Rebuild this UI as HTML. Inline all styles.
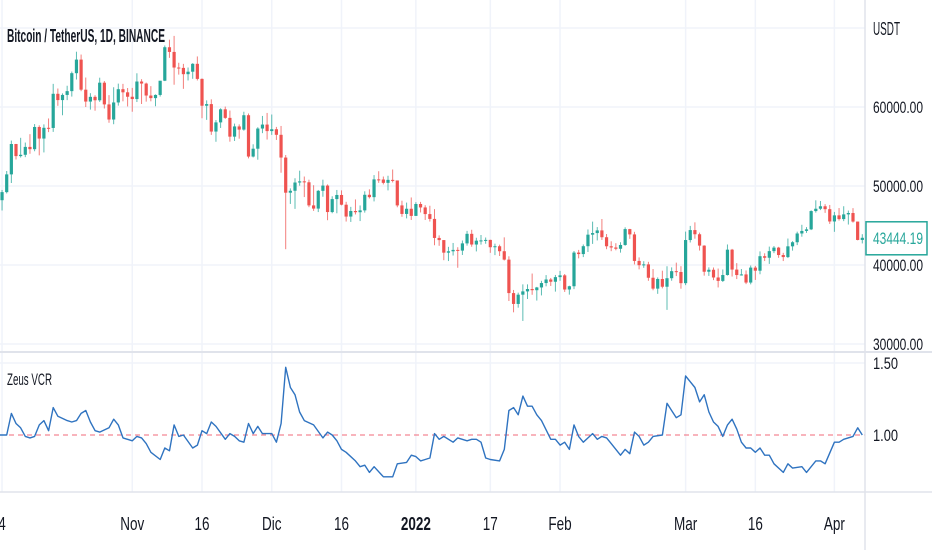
<!DOCTYPE html>
<html><head><meta charset="utf-8">
<style>
html,body{margin:0;padding:0;background:#fff;}
svg{display:block;font-family:"Liberation Sans",sans-serif;}
</style></head>
<body>
<svg id="chart" width="932" height="550" viewBox="0 0 932 550" xmlns="http://www.w3.org/2000/svg">
<rect width="932" height="550" fill="#fff"/>
<g id="grid"></g>
<g id="candles"></g>
<g id="ind"></g>
<g id="axes"></g>
<text x="7" y="42" font-size="18" font-weight="bold" fill="#131722" textLength="158" lengthAdjust="spacingAndGlyphs">Bitcoin / TetherUS, 1D, BINANCE</text>
<text x="7" y="385" font-size="17" fill="#131722" textLength="45" lengthAdjust="spacingAndGlyphs">Zeus VCR</text>
<text x="873" y="35" font-size="18" fill="#131722" textLength="27" lengthAdjust="spacingAndGlyphs">USDT</text>
</svg>
<script>
// Daily candles from Oct 3 2021 to Apr 7 2022
const firstOpen = 47650;
const closes = [48200,49225,51471,55315,53785,53951,54949,54659,57471,56005,57367,57347,61672,60875,61528,62009,64280,66001,62193,60688,61286,60852,63078,60328,58413,60575,62253,61859,61299,
61004,63226,62970,61452,61125,61527,63327,67566,66971,64995,64950,64155,64469,65466,63557,60161,60368,56891,58052,59707,58622,56247,57541,57138,58960,53726,54721,57274,57776,56950,
57184,56480,53601,49152,49397,50441,50588,50471,47545,47140,49390,50053,46702,48343,48864,47632,46131,46834,46682,46914,48889,48588,50838,50820,50399,50775,50701,47543,46464,47120,46216,
47722,47286,46446,45833,43425,43153,41561,41734,41911,41822,42736,43946,42592,43079,43113,43177,42250,42375,41744,40680,36445,35071,36244,36660,36958,36810,37160,37716,38166,37881,38466,
38691,36896,37311,41574,41383,42380,43840,44043,44379,43515,42373,42217,42053,42535,44544,43873,40515,39975,40079,38386,37008,38230,37250,38328,39219,39116,37700,43160,
44421,43892,42455,39148,39397,38420,37988,38730,41941,39422,38730,38807,37777,39671,39280,41114,40917,41757,42201,41262,41002,42364,42882,43991,44313,44511,46827,47122,47434,47067,45510,
46283,45811,46407,46580,45497,43170,43444];
const highs = [49300,49500,51900,55750,55330,56100,55500,56560,57840,57680,57800,58550,62930,62340,61720,62690,64490,67000,66640,63730,61750,61490,63710,63290,61500,62500,62960,62930,62400,
62420,64270,63520,63090,62640,61600,63300,67790,68520,69000,65600,65460,65000,65550,66400,63620,60840,60970,58350,59840,60050,59550,57900,57800,59400,59170,55280,57440,58870,59250,
59050,57480,57600,53920,49700,50980,51940,51200,50800,50100,49500,50800,50200,48700,49500,49440,48000,47360,48300,47540,49330,49580,51380,51870,51200,51300,52090,50700,48140,47900,48550,
47950,47990,47570,47500,47070,43750,43150,42300,42790,42250,43100,44320,44460,43450,43800,43480,43200,42700,42580,43500,41100,36840,36500,37550,37550,38920,37230,38000,38720,38360,38740,
39260,38860,37380,41770,41910,42600,44500,45490,44800,45820,43920,43000,42760,42880,44770,44580,44200,40960,40480,40400,39490,38430,39280,39840,39700,40300,39850,44230,
44950,45400,44100,42500,39700,39680,39550,39430,42600,42040,40240,39490,39310,39940,39890,41720,41480,42330,42400,42300,41540,43350,43020,44220,45090,44800,46920,48190,48100,47700,47600,
46720,47210,47440,46890,47200,45500,43900];
const lows = [47100,46900,49060,50380,53350,53600,53650,54080,54400,53880,54250,56820,56850,60150,58960,60870,61320,63480,62000,60000,59670,59530,60650,59810,58000,57820,60170,60720,60070,
59400,60630,60380,60680,60720,60100,61320,63280,66220,62820,64100,62300,63360,63570,63360,58570,58370,56470,55600,57350,58490,55610,55700,55990,57000,53500,53610,53330,56690,55880,
56470,55830,51680,42000,47730,47100,50040,48600,47320,46850,46700,48640,45670,46550,46550,47540,45500,45450,46400,45560,46630,48420,48050,50400,50200,49440,50450,47310,46100,45900,45700,
46210,46650,45700,45500,42500,42430,40610,40500,41200,39650,41270,42450,42310,41720,42580,42690,41540,41250,41140,40570,35440,34010,34600,32920,35700,36230,35500,36150,37300,37350,36630,
38000,36590,36250,36940,40840,41000,41650,42670,43110,43170,42000,41750,41860,41570,42430,43310,40070,39450,39640,38000,36800,36350,37040,34320,38010,38600,37000,37450,
42850,43330,41830,38650,38620,38090,37160,37850,38660,38540,38220,38660,37580,37550,38110,38830,40500,40140,41500,40910,40500,40880,41820,42520,43580,44070,44420,46630,46950,46600,45200,
44200,45620,45550,45120,45360,43120,42730];
// Zeus VCR readings: day index and value
const vcrDays = [0,2,3,4,5,6,7,8,9,10,11,12,13,15,16,17,18,19,20,21,22,24,25,26,27,29,30,31,32,33,35,36,37,38,39,40,42,43,44,45,46,47,49,50,51,52,53,54,55,56,57,59,60,61,62,63,64,65,66,68,70,71,72,73,74,75,77,78,79,80,81,83,85,86,88,89,90,91,92,93,94,95,96,98,99,101,102,103,104,105,106,108,109,110,111,112,113,114,115,116,117,119,120,121,122,123,124,125,126,127,128,129,130,131,132,134,135,136,137,138,139,140,141,143,144,145,146,147,148,150,151,152,153,154,155,156,157,158,159,160,161,162,163,164,165,166,167,169,170,171,173,174,176,177,178,180,181,182,184,185,186];
const vcrValues = [1.00,1.00,1.15,1.08,1.05,0.99,0.98,0.99,1.07,1.10,1.03,1.19,1.13,1.10,1.09,1.10,1.15,1.17,1.09,1.03,1.02,1.05,1.11,1.07,0.98,0.96,0.99,0.98,0.94,0.88,0.83,0.91,0.89,1.07,0.99,1.00,0.91,0.93,1.03,1.01,1.09,1.06,0.97,1.01,0.99,0.96,0.95,1.08,1.01,1.06,1.01,1.01,0.95,1.08,1.47,1.33,1.28,1.16,1.10,1.07,0.98,1.02,1.00,0.96,0.90,0.88,0.82,0.78,0.79,0.74,0.78,0.71,0.71,0.80,0.81,0.86,0.85,0.82,0.83,0.84,1.01,0.97,0.99,0.95,0.98,0.96,0.97,0.97,0.95,0.84,0.83,0.82,0.90,1.17,1.19,1.14,1.27,1.20,1.20,1.14,1.10,0.97,0.97,0.93,0.95,0.90,1.07,0.99,0.95,0.98,1.01,0.97,0.99,0.98,0.94,0.86,0.90,0.87,1.02,0.99,0.93,0.95,0.99,1.00,1.22,1.17,1.12,1.14,1.41,1.33,1.23,1.28,1.16,1.09,1.06,0.99,1.07,1.11,1.04,0.95,0.91,0.91,0.88,0.91,0.86,0.86,0.80,0.74,0.80,0.77,0.78,0.74,0.82,0.82,0.80,0.95,0.95,0.97,0.99,1.05,1.00];
const priceTicks = [70000,60000,50000,40000,30000];
const priceTickLabels = ["","60000.00","50000.00","40000.00","30000.00"];
const vcrTicks = [1.5,1.0];
const vcrTickLabels = ["1.50","1.00"];
const timeTickDays = [1,29,44,59,74,90,106,121,148,163,180];
const timeTickLabels = ["4","Nov","16","Dic","16","2022","17","Feb","Mar","16","Apr"];
const lastPrice = 43444.19;

const NS="http://www.w3.org/2000/svg";
const PLOT_R=865;
const xDay = d => -2.6 + d*4.65;
const yP = p => 186 - (p-50000)*0.0079;
const yV = v => 435 - (v-1)*144;
function mk(tag,attrs,parent){const e=document.createElementNS(NS,tag);for(const k in attrs)e.setAttribute(k,attrs[k]);parent.appendChild(e);return e;}
const grid=document.getElementById('grid'),cg=document.getElementById('candles'),ig=document.getElementById('ind'),ax=document.getElementById('axes');

priceTicks.forEach((p,i)=>{
  const l=mk('line',{x1:0,x2:PLOT_R,y1:yP(p),y2:yP(p),stroke:'#f0f3fa','stroke-width':1.5},grid);
  
  
  if(priceTickLabels[i]){
    const t=mk('text',{x:873,y:yP(p)+6,'font-size':17,fill:'#131722',textLength:50,lengthAdjust:'spacingAndGlyphs'},ax);t.textContent=priceTickLabels[i];
    
    
  }
});
vcrTicks.forEach((v,i)=>{
  if(v!==1){const l=mk('line',{x1:0,x2:PLOT_R,y1:yV(v),y2:yV(v),stroke:'#f0f3fa','stroke-width':1.5},grid);
  
  }
  const t=mk('text',{x:873,y:yV(v)+6,'font-size':17,fill:'#131722',textLength:25,lengthAdjust:'spacingAndGlyphs'},ax);t.textContent=vcrTickLabels[i];
  
  
});
timeTickDays.forEach((d,i)=>{
  const x=xDay(d);
  const l=mk('line',{x1:x,x2:x,y1:0,y2:492,stroke:'#f0f3fa','stroke-width':1.5},grid);
  
  
  const bold=timeTickLabels[i]==='2022';
  const t=mk('text',{x:x,y:530,'font-size':18,fill:'#131722','text-anchor':'middle','font-weight':bold?'bold':'normal'},ax);
  t.textContent=timeTickLabels[i];
  
  
  const w=t.getComputedTextLength();
  t.setAttribute('textLength',(w*0.75).toFixed(1));
  t.setAttribute('lengthAdjust','spacingAndGlyphs');
});

closes.forEach((c,i)=>{
  const o = i===0?firstOpen:closes[i-1];
  const up=c>=o, col=up?'#26a69a':'#ef5350', x=xDay(i);
  const w=mk('line',{x1:x,x2:x,y1:yP(highs[i]),y2:yP(lows[i]),stroke:col,'stroke-width':1,opacity:0.75},cg);
  
  
  const top=yP(Math.max(o,c)),bot=yP(Math.min(o,c));
  const b=mk('rect',{x:x-1.6,y:top,width:3.2,height:Math.max(1,bot-top),fill:col},cg);
  
  
});

const ref=mk('line',{x1:0,x2:PLOT_R,y1:yV(1),y2:yV(1),stroke:'#f06a7a','stroke-width':1,'stroke-dasharray':'5,4'},ig);


const pts=vcrDays.map((d,i)=>xDay(d).toFixed(1)+','+yV(vcrValues[i]).toFixed(1)).join(' ');
const pl=mk('polyline',{points:pts,fill:'none',stroke:'#2f73c0','stroke-width':1.4,'stroke-linejoin':'round'},ig);



const sep=mk('line',{x1:0,x2:932,y1:352,y2:352,stroke:'#e0e3eb','stroke-width':2},ax);


const bl=mk('line',{x1:0,x2:932,y1:492,y2:492,stroke:'#e0e3eb','stroke-width':1.5},ax);


const vl=mk('line',{x1:PLOT_R,x2:PLOT_R,y1:0,y2:550,stroke:'#e0e3eb','stroke-width':1.5},ax);



const ly=yP(lastPrice);
const box=mk('rect',{x:866,y:ly-16,width:61,height:33,fill:'#fff',stroke:'#26a69a','stroke-width':1.5},ax);


const lt=mk('text',{x:873,y:ly+6,'font-size':17,fill:'#26a69a',textLength:50,lengthAdjust:'spacingAndGlyphs'},ax);
lt.textContent=lastPrice.toFixed(2);


</script>
</body></html>
